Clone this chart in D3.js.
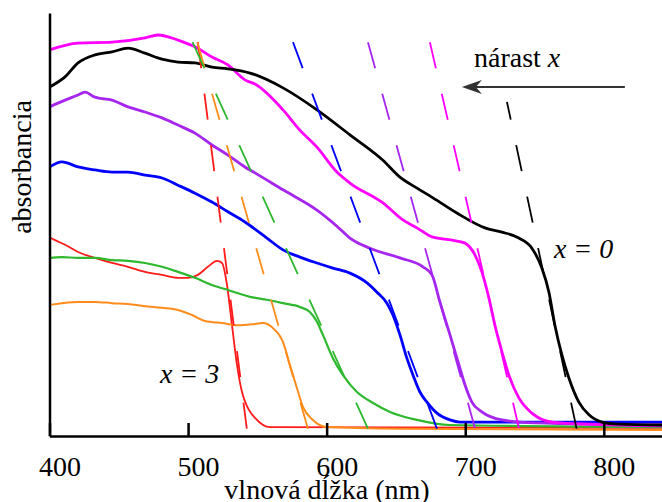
<!DOCTYPE html>
<html>
<head>
<meta charset="utf-8">
<script src="https://cdn.jsdelivr.net/npm/d3@7"></script>
<style>
  html, body { margin: 0; padding: 0; background: #fff; }
  svg { display: block; }
  text { font-family: "Liberation Serif", "Times New Roman", serif; fill: #000; }
</style>
</head>
<body>
<svg id="chart" width="662" height="502"></svg>
<script>
// ---------- DATA ----------
const wavelengthTicks = [400, 500, 600, 700, 800];
const xLabel = "vlnová dĺžka (nm)";
const yLabel = "absorbancia";

// spectra: [wavelength nm, absorbance (arb.)]
const specX0 = [ // black, x = 0
  [400,0.825],[411.2,0.849],[420.6,0.882],[432.8,0.901],[445.1,0.908],[456.6,0.917],[468.9,0.905],
  [481.2,0.891],[492.7,0.884],[505,0.882],[517.2,0.872],[528.8,0.868],[544.7,0.858],[568.5,0.823],
  [593,0.771],[616.8,0.712],[640.6,0.652],[652.9,0.612],[665.2,0.586],[676.7,0.563],[694,0.527],
  [714.2,0.492],[726.5,0.482],[738.7,0.468],[748.1,0.444],[755.3,0.397],[760.4,0.340],[764.7,0.262],
  [769.8,0.191],[774.8,0.137],[782,0.080],[789.3,0.050],[798.6,0.033],[810.9,0.028],[842,0.026]];
const specMagenta = [
  [400,0.913],[420.6,0.929],[445.1,0.931],[468.9,0.941],[478.3,0.948],[492.7,0.936],[505,0.920],
  [517.2,0.896],[528.8,0.877],[541,0.842],[548.3,0.832],[568.5,0.771],[580.7,0.723],[593,0.683],
  [607.4,0.624],[616.8,0.598],[640.6,0.551],[655,0.511],[665.2,0.492],[676.7,0.470],[690.4,0.463],
  [699.8,0.456],[707,0.428],[712,0.388],[717.1,0.326],[721.4,0.262],[726.5,0.199],[731.5,0.144],
  [738.7,0.090],[748.1,0.054],[762.6,0.033],[786.4,0.028],[842,0.024]];
const specPurple = [
  [400,0.778],[411.2,0.794],[420.6,0.806],[425.6,0.813],[432.8,0.801],[445.1,0.794],[456.6,0.778],
  [468.9,0.766],[481.2,0.752],[492.7,0.735],[505,0.716],[517.2,0.688],[528.8,0.664],[541,0.636],
  [548.3,0.622],[568.5,0.582],[593,0.534],[607.4,0.496],[616.8,0.468],[631.2,0.444],[652.9,0.421],
  [669.5,0.400],[676,0.381],[681.7,0.317],[689,0.239],[695.5,0.168],[699.8,0.121],[704.8,0.080],
  [712,0.057],[726.5,0.038],[750.3,0.031],[842,0.026]];
const specBlue = [
  [400,0.636],[409,0.648],[420.6,0.636],[432.8,0.629],[445.1,0.624],[456.6,0.624],[468.9,0.617],
  [481.2,0.610],[492.7,0.593],[505,0.574],[517.2,0.553],[528.8,0.530],[541,0.506],[556.9,0.468],
  [568.5,0.440],[580.7,0.423],[593,0.409],[604.5,0.397],[616.8,0.385],[629.1,0.362],[636.3,0.340],
  [643.5,0.314],[647.8,0.286],[652.9,0.239],[657.9,0.184],[662.3,0.144],[667.3,0.104],[672.4,0.080],
  [679.6,0.054],[689,0.038],[696.2,0.033],[842,0.033]];
const specGreen = [
  [400,0.421],[409,0.423],[420.6,0.421],[432.8,0.421],[445.1,0.416],[456.6,0.414],[468.9,0.409],
  [481.2,0.400],[492.7,0.388],[505,0.374],[517.2,0.357],[528.8,0.345],[544.7,0.329],[556.9,0.322],
  [568.5,0.314],[580.7,0.305],[587.9,0.293],[593,0.270],[597.3,0.239],[604.5,0.184],[611.8,0.144],
  [621.9,0.104],[633.5,0.078],[645.7,0.057],[665.2,0.038],[689,0.026],[842,0.021]];
const specOrange = [
  [400,0.310],[409,0.314],[420.6,0.317],[432.8,0.317],[445.1,0.314],[456.6,0.312],[468.9,0.307],
  [481.2,0.303],[492.7,0.298],[502.8,0.286],[512.2,0.272],[524.5,0.267],[536,0.262],[548.3,0.265],
  [554,0.267],[561.3,0.255],[568.5,0.222],[573.5,0.168],[578.6,0.113],[582.9,0.069],[590.1,0.038],
  [600.2,0.021],[652.9,0.017],[842,0.014]];
const specX3 = [ // red, x = 3
  [400,0.470],[404,0.463],[411.2,0.452],[420.6,0.435],[432.8,0.421],[445.1,0.409],[456.6,0.400],
  [468.9,0.388],[481.2,0.381],[492.7,0.374],[499.9,0.374],[507.1,0.381],[514.3,0.400],[520.8,0.414],
  [524.5,0.409],[528.1,0.357],[531.7,0.262],[535.3,0.168],[538.9,0.104],[543.2,0.066],[548.3,0.043],
  [559.1,0.021],[842,0.019]];

// tangent lines at the absorption edges: [nm top, abs top, nm bottom, abs bottom]
const edgeX0      = [730.1, 0.790, 780.6, 0.014];
const edgeMagenta = [674.5, 0.931, 738.7, 0.019];
const edgePurple  = [629.8, 0.931, 707.0, 0.019];
const edgeBlue    = [575.7, 0.931, 679.6, 0.017];
const edgeGreen   = [502.8, 0.934, 629.8, 0.017];
const edgeOrange  = [506.4, 0.934, 586.5, 0.017];
const edgeX3      = [507.1, 0.931, 542.5, 0.014];

const seriesColors = ["#ff1a1a", "#ff8c1a", "#2db82d", "#0000ff", "#a626f0", "#ff00ff", "#000000"];
const seriesData   = [specX3, specOrange, specGreen, specBlue, specPurple, specMagenta, specX0];
const edgeData     = [edgeX3, edgeOrange, edgeGreen, edgeBlue, edgePurple, edgeMagenta, edgeX0];
const seriesWidths = [1.8, 2, 2.2, 2.8, 2.8, 2.8, 2.8];

// annotations (data coords)
const arrowFrom = [815.2, 0.825], arrowTo = [697.6, 0.825];
const growLabelPos = [706.3, 0.872];
const x0LabelPos = [764.0, 0.421];
const x3LabelPos = [479.7, 0.125];

// ---------- CHART ----------
const svg = d3.select("#chart");
const x = d3.scaleLinear().domain([400, 842]).range([49.5, 662]);
const y = d3.scaleLinear().domain([0, 1]).range([436, 13]);

const defs = svg.append("defs");
defs.append("clipPath").attr("id", "plot")
  .append("rect").attr("x", 49.5).attr("y", 0).attr("width", 662 - 49.5).attr("height", 436);

const plot = svg.append("g").attr("clip-path", "url(#plot)");
const line = d3.line().x(d => x(d[0])).y(d => y(d[1])).curve(d3.curveMonotoneX);

seriesData.forEach((s, i) => {
  plot.append("path").datum(s)
    .attr("d", line)
    .attr("fill", "none")
    .attr("stroke", seriesColors[i])
    .attr("stroke-width", seriesWidths[i])
    .attr("stroke-linejoin", "round");
});

// dashed edge lines, dashes aligned in a common vertical phase
const dashTop = y(0.931), period = 51.5, dashLen = 26;
edgeData.forEach((e, i) => {
  const x1 = x(e[0]), y1 = y(e[1]), x2 = x(e[2]), y2 = y(e[3]);
  const k = Math.hypot(x2 - x1, y2 - y1) / (y2 - y1);
  const phase = ((y1 - dashTop) % period + period) % period;
  plot.append("line")
    .attr("x1", x1).attr("y1", y1).attr("x2", x2).attr("y2", y2)
    .attr("stroke", seriesColors[i])
    .attr("stroke-width", 1.8)
    .attr("stroke-dasharray", `${dashLen * k},${(period - dashLen) * k}`)
    .attr("stroke-dashoffset", phase * k);
});

// axes
const xAxis = d3.axisBottom(x).tickValues(wavelengthTicks).tickSizeInner(-13).tickSizeOuter(0).tickFormat(d3.format("d"));
const gx = svg.append("g").attr("transform", "translate(0,436)").call(xAxis);
gx.select(".domain").attr("stroke", "#000").attr("stroke-width", 2.5);
gx.selectAll(".tick line").attr("stroke", "#000").attr("stroke-width", 2.5);
gx.selectAll(".tick text").attr("font-family", "Liberation Serif").attr("font-size", 28)
  .attr("fill", "#000").attr("dy", null).attr("y", 40).attr("dx", 10);

const yAxis = d3.axisLeft(y).tickValues([]).tickSizeOuter(0);
const gy = svg.append("g").attr("transform", "translate(49.5,0)").call(yAxis);
gy.select(".domain").attr("stroke", "#000").attr("stroke-width", 2.5);

svg.append("text").attr("x", 327).attr("y", 499).attr("text-anchor", "middle")
  .attr("font-size", 28).text(xLabel);
svg.append("text").attr("transform", "translate(31,167) rotate(-90)").attr("text-anchor", "middle")
  .attr("font-size", 28).text(yLabel);

// arrow "nárast x"
const ax1 = x(arrowFrom[0]), ay = y(arrowFrom[1]), ax2 = x(arrowTo[0]);
svg.append("line").attr("x1", ax1).attr("y1", ay).attr("x2", ax2 + 8).attr("y2", ay)
  .attr("stroke", "#333").attr("stroke-width", 2);
svg.append("path")
  .attr("d", `M${ax2},${ay} L${ax2 + 20},${ay - 7} L${ax2 + 14},${ay} L${ax2 + 20},${ay + 7} Z`)
  .attr("fill", "#333");

const growT = svg.append("text").attr("x", x(growLabelPos[0])).attr("y", y(growLabelPos[1])).attr("font-size", 28);
growT.append("tspan").text("nárast ");
growT.append("tspan").attr("font-style", "italic").text("x");

svg.append("text").attr("x", x(x0LabelPos[0])).attr("y", y(x0LabelPos[1]))
  .attr("font-size", 28).attr("font-style", "italic").text("x = 0");
svg.append("text").attr("x", x(x3LabelPos[0])).attr("y", y(x3LabelPos[1]))
  .attr("font-size", 28).attr("font-style", "italic").text("x = 3");
</script>
</body>
</html>
